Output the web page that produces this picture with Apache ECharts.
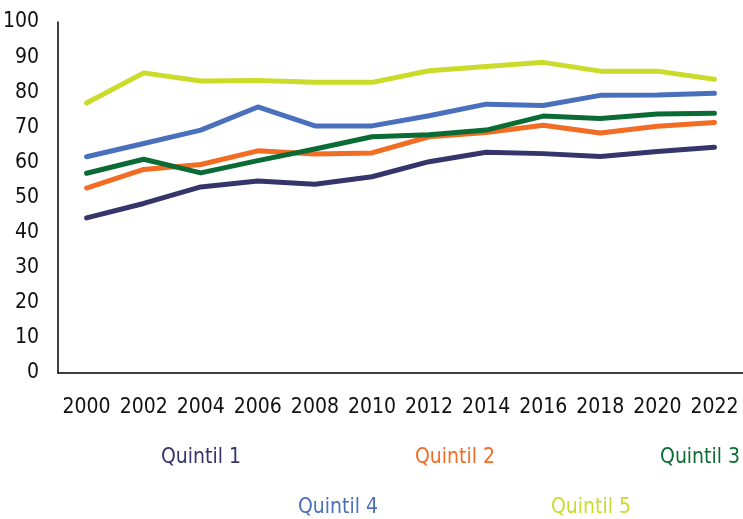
<!DOCTYPE html>
<html>
<head>
<meta charset="utf-8">
<title>Quintiles 2000-2022</title>
<script src="https://cdn.jsdelivr.net/npm/echarts@6/dist/echarts.min.js"></script>
<style>
  html, body { margin: 0; padding: 0; background: #fff; }
  #chart { width: 743px; height: 519px; }
</style>
</head>
<body>
<div id="chart"></div>
<script>
// data
const years = ['2000', '2002', '2004', '2006', '2008', '2010', '2012', '2014', '2016', '2018', '2020', '2022']
const quintil1 = [44.2, 48.3, 53.0, 54.7, 53.8, 55.9, 60.2, 62.9, 62.5, 61.7, 63.1, 64.3]
const quintil2 = [52.7, 58.0, 59.4, 63.3, 62.4, 62.7, 67.3, 68.5, 70.6, 68.4, 70.3, 71.4]
const quintil3 = [56.9, 60.9, 57.0, 60.5, 63.8, 67.3, 67.9, 69.2, 73.2, 72.5, 73.8, 74.0]
const quintil4 = [61.6, 65.4, 69.2, 75.8, 70.4, 70.4, 73.3, 76.6, 76.2, 79.1, 79.2, 79.7]
const quintil5 = [76.9, 85.5, 83.2, 83.3, 82.8, 82.8, 86.1, 87.3, 88.5, 86.0, 86.0, 83.7]
const seriesNames = ['Quintil 1', 'Quintil 2', 'Quintil 3', 'Quintil 4', 'Quintil 5']

const colors = ['#35346b', '#f26c23', '#0b6b35', '#4a70bd', '#cbdb2a']
const font = '"DejaVu Sans Condensed", "Liberation Sans Narrow", sans-serif'
const fontSize = 21

// legend positions - two rows of coloured text, no icons
const legendPos = [
  { left: 156, top: 447 },
  { left: 410, top: 447 },
  { right: 3, top: 447 },
  { left: 293, top: 497 },
  { left: 546, top: 497 }
]

const chart = echarts.init(document.getElementById('chart'), null, { renderer: 'canvas' })

const allData = [quintil1, quintil2, quintil3, quintil4, quintil5]

const option = {
  animation: false,
  grid: { left: 58, right: 0, top: 22, bottom: 146 },
  legend: seriesNames.map((name, i) => Object.assign({
    data: [{ name: name, icon: 'rect' }],
    padding: 0,
    itemWidth: 0,
    itemHeight: 0,
    selectedMode: false,
    textStyle: { color: colors[i], fontFamily: font, fontSize: fontSize }
  }, legendPos[i])),
  xAxis: {
    type: 'category',
    data: years,
    boundaryGap: true,
    axisLine: { lineStyle: { color: '#000', width: 1.5 } },
    axisTick: { show: false },
    axisLabel: { color: '#111', fontFamily: font, fontSize: fontSize, margin: 24, interval: 0 }
  },
  yAxis: {
    type: 'value',
    min: 0,
    max: 100,
    interval: 10,
    axisLine: { show: true, lineStyle: { color: '#000', width: 1.5 } },
    axisTick: { show: false },
    splitLine: { show: false },
    axisLabel: { color: '#111', fontFamily: font, fontSize: fontSize, margin: 19 }
  },
  series: seriesNames.map((name, i) => ({
    name: name,
    type: 'line',
    data: allData[i],
    color: colors[i],
    symbol: 'none',
    lineStyle: { width: 5, cap: 'round', join: 'round' }
  }))
}

chart.setOption(option)
</script>
</body>
</html>
